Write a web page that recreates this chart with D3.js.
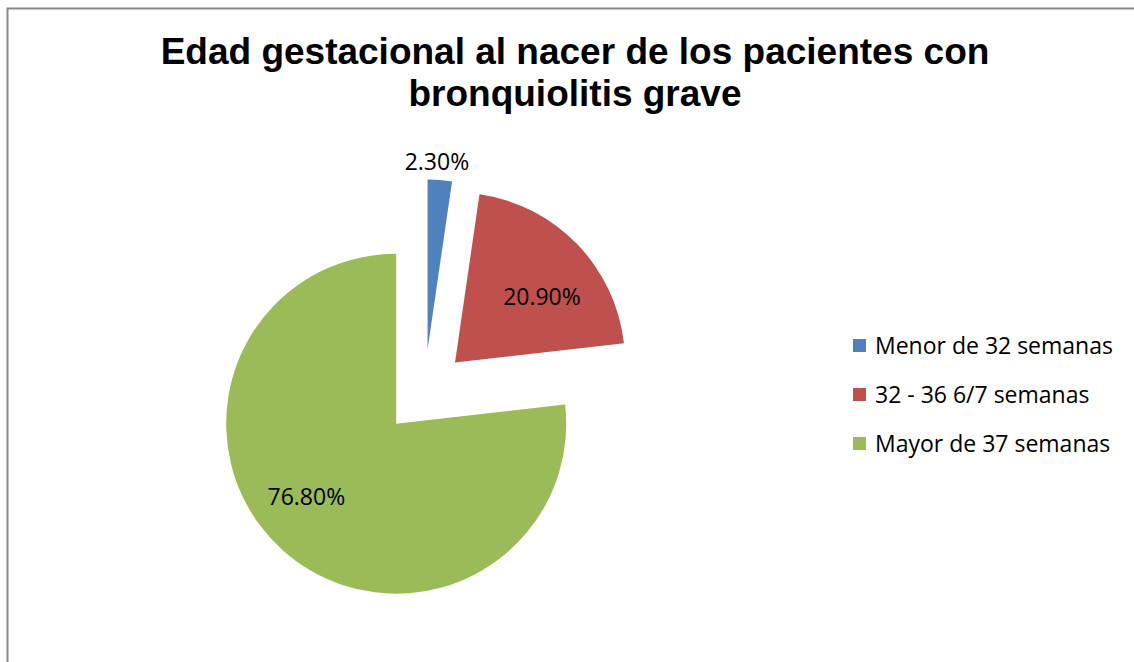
<!DOCTYPE html>
<html>
<head>
<meta charset="utf-8">
<script src="https://cdn.jsdelivr.net/npm/d3@7"></script>
<style>
  body { margin: 0; background: #fff; }
  svg { display: block; }
</style>
</head>
<body>
<div id="chart"></div>
<script>
// chart data
var titleLines = ["Edad gestacional al nacer de los pacientes con", "bronquiolitis grave"];
var categories = ["Menor de 32 semanas", "32 - 36 6/7 semanas", "Mayor de 37 semanas"];
var values = [2.3, 20.9, 76.8];
var labels = ["2.30%", "20.90%", "76.80%"];
var colors = ["#4f81bd", "#c0504d", "#9bbb59"];

var width = 1134, height = 662;
var svg = d3.select("#chart").append("svg")
    .attr("width", width)
    .attr("height", height);

// frame (only top and left edges show)
svg.append("path")
    .attr("d", "M7.5," + height + "V8.5H" + width)
    .attr("fill", "none")
    .attr("stroke", "#888")
    .attr("stroke-width", 2);

// title
svg.append("text")
    .attr("x", 575)
    .attr("y", 64)
    .attr("text-anchor", "middle")
    .style("font-family", "'Liberation Sans', Arial, sans-serif")
    .style("font-weight", "bold")
    .style("font-size", "37px")
    .selectAll("tspan")
    .data(titleLines)
    .enter()
    .append("tspan")
    .attr("x", 575)
    .attr("dy", function(d, i){ return i == 0 ? 0 : 42; })
    .text(function(d){ return d; });

// pie
var cx = 424.5, cy = 392;
var radius = 170;
var explode = 42.5;

var pie = d3.pie().sort(null).value(function(d){ return d; });
var arcs = pie(values);
var arc = d3.arc().innerRadius(0).outerRadius(radius);

function mid(d){ return (d.startAngle + d.endAngle) / 2; }

var g = svg.append("g").attr("transform", "translate(" + cx + "," + cy + ")");

var slices = g.selectAll(".slice")
    .data(arcs)
    .enter()
    .append("g")
    .attr("class", "slice")
    .attr("transform", function(d){
      var a = mid(d);
      return "translate(" + (Math.sin(a) * explode) + "," + (-Math.cos(a) * explode) + ")";
    });

slices.append("path")
    .attr("d", arc)
    .attr("fill", function(d, i){ return colors[i]; });

// data labels: distance from the slice tip and a small angle shift, as Excel placed them
var labelPos = [
  {r: 188, shift: -1.3},
  {r: 109, shift: 7},
  {r: 116, shift: 9}
];
slices.append("text")
    .attr("transform", function(d, i){
      var a = mid(d) + labelPos[i].shift * Math.PI / 180;
      var x = Math.sin(a) * labelPos[i].r;
      var y = -Math.cos(a) * labelPos[i].r;
      return "translate(" + x + "," + y + ")";
    })
    .attr("text-anchor", "middle")
    .attr("dy", "0.35em")
    .style("font-family", "'Open Sans', sans-serif")
    .style("font-size", "23px")
    .attr("fill", "#000")
    .text(function(d, i){ return labels[i]; });

// legend
var legend = svg.append("g").attr("transform", "translate(853,346)");
var items = legend.selectAll(".item")
    .data(categories)
    .enter()
    .append("g")
    .attr("class", "item")
    .attr("transform", function(d, i){ return "translate(0," + (i * 49) + ")"; });

items.append("rect")
    .attr("x", 0)
    .attr("y", -7)
    .attr("width", 13)
    .attr("height", 13)
    .attr("fill", function(d, i){ return colors[i]; });

items.append("text")
    .attr("x", 22)
    .attr("y", 0)
    .attr("dy", "0.35em")
    .style("font-family", "'Open Sans', sans-serif")
    .style("font-size", "23px")
    .attr("fill", "#000")
    .text(function(d){ return d; });
</script>
</body>
</html>
